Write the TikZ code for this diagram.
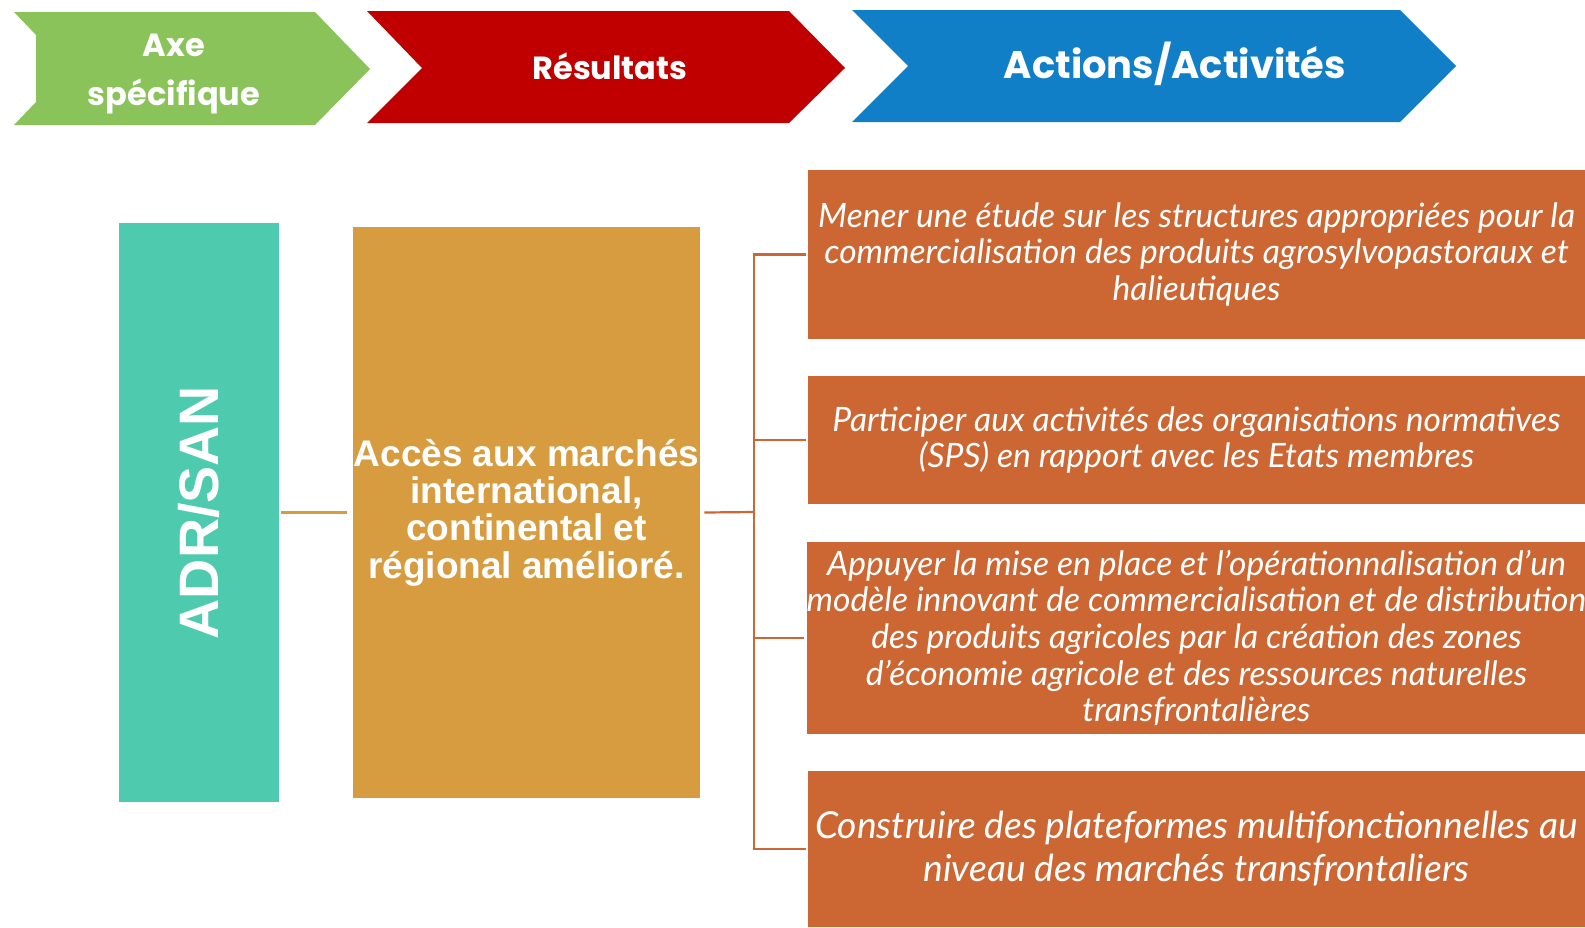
\documentclass[tikz,border=0pt]{standalone}
\usepackage{fontspec}
\setmainfont{Liberation Sans}
\newfontfamily\headfont{Poppins}
\newfontfamily\actfont{Lato}
\usepackage{tikz}
\usetikzlibrary{positioning}

\definecolor{chgreen}{HTML}{89C35A}
\definecolor{chred}{HTML}{C00000}
\definecolor{chblue}{HTML}{117FC8}
\definecolor{axeteal}{HTML}{4ECBAE}
\definecolor{resorange}{HTML}{D89C40}
\definecolor{actrust}{HTML}{CC6633}

\tikzset{
  headtext/.style={text=white, font=\headfont\bfseries\fontsize{16}{24.5}\selectfont, align=center},
  actbox/.style={fill=actrust, text=white, minimum width=388.5pt, inner sep=0pt,
    align=center, font=\actfont\itshape\fontsize{16.8}{18.3}\selectfont},
  link/.style={line width=1.1pt, actrust}
}

\begin{document}
\begin{tikzpicture}[x=0.5pt, y=-0.5pt]
        \useasboundingbox (0,0) rectangle (1585,927);

        % bandeau des en-tetes
        \fill[chgreen] (14,12) -- (36,35) -- (36,102) -- (14,125) -- (315,125) -- (370,69) -- (315,12) -- cycle;
        \fill[chred] (367,11) -- (422,68) -- (367,123) -- (789,123) -- (845,68) -- (789,11) -- cycle;
        \fill[chblue] (852,10) -- (908,66) -- (852,122) -- (1400,122) -- (1456,66) -- (1400,10) -- cycle;
        \node[headtext] (haxe) at (174,74) {Axe\\spécifique};
        \node[headtext] (hres) at (610,66) {Résultats};
        \node[headtext, font=\headfont\bfseries\fontsize{19.2}{24}\selectfont] (hact) at (1175,64) {Actions/Activités};

        % axe et resultat
        \node[fill=axeteal, minimum width=80pt, minimum height=289.5pt] (axe) at (199,512.5) {};
        \node[rotate=90, text=white, font=\bfseries\fontsize{27.8}{30}\selectfont] (axetxt) at (axe.center) {ADR/SAN};
        \node[fill=resorange, minimum width=173.5pt, minimum height=285.5pt, text=white, align=center,
              inner sep=0pt, font=\bfseries\fontsize{18.5}{18.7}\selectfont] (res) at (526.5,512.5)
              {Accès aux marchés\\international,\\continental et\\régional amélioré.};

        % actions
        \node[actbox, minimum height=84.5pt] (act1) at (1196.5,254.5)
              {Mener une étude sur les structures appropriées pour la\\commercialisation des produits agrosylvopastoraux et\\halieutiques};
        \node[actbox, minimum height=64pt] (act2) at (1196.5,440)
              {Participer aux activités des organisations normatives\\(SPS) en rapport avec les Etats membres};
        \node[actbox, minimum height=96pt] (act3) at (1196.5,638)
              {Appuyer la mise en place et l’opérationnalisation d’un\\modèle innovant de commercialisation et de distribution\\des produits agricoles par la création des zones\\d’économie agricole et des ressources naturelles\\transfrontalières};
        \node[actbox, minimum height=78pt, font=\actfont\itshape\fontsize{18.6}{21.5}\selectfont] (act4) at (1196.5,849)
              {Construire des plateformes multifonctionnelles au\\niveau des marchés transfrontaliers};

        % liaisons
        \coordinate (hub) at (754,512);
        \draw[line width=1.1pt, resorange] ([xshift=-2pt]axe.east) ++(3pt,0) -- ([xshift=-3pt]res.west);
        \draw[link] ([xshift=2pt]res.east) -- (hub);
        \draw[link] (hub) |- ([xshift=-1pt]act1.west);
        \draw[link] (hub) |- ([xshift=-1pt]act2.west);
        \draw[link] (hub) |- ([xshift=-1pt]act3.west);
        \draw[link] (hub) |- ([xshift=-1pt]act4.west);
\end{tikzpicture}
\end{document}
